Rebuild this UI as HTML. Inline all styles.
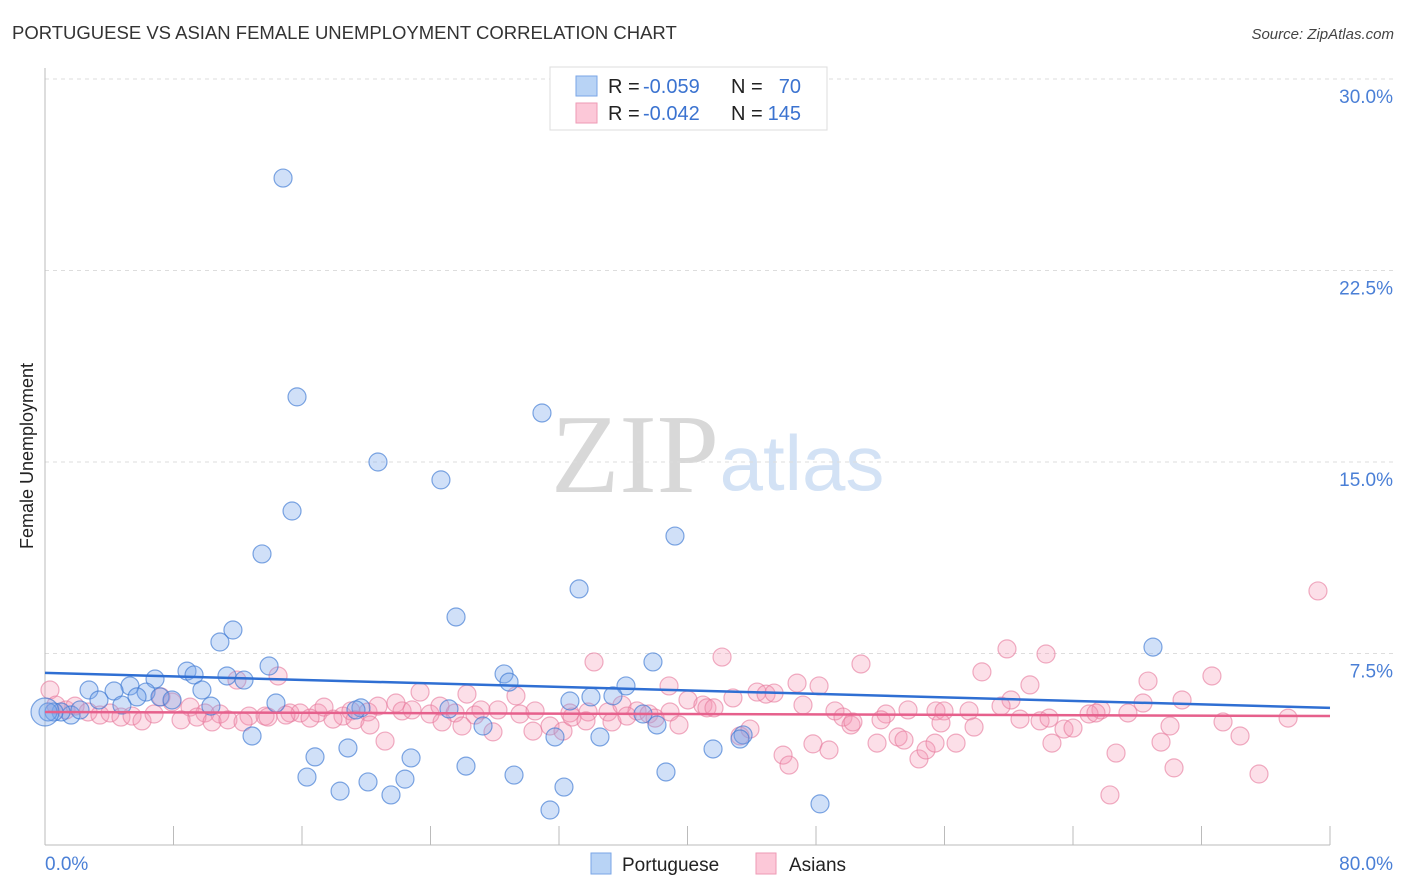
<!DOCTYPE html>
<html><head><meta charset="utf-8"><style>
body{margin:0;background:#fff;font-family:"Liberation Sans",sans-serif}
svg{display:block}
</style></head><body>
<svg id="chart" width="1406" height="892" viewBox="0 0 1406 892" xmlns="http://www.w3.org/2000/svg" font-family="Liberation Sans, sans-serif">
<text x="12" y="39" font-size="18.5" fill="#333">PORTUGUESE VS ASIAN FEMALE UNEMPLOYMENT CORRELATION CHART</text>
<text x="1394" y="39" font-size="15" fill="#444" text-anchor="end" font-style="italic">Source: ZipAtlas.com</text>
<g>
<text x="635" y="492" font-size="112" font-family="Liberation Serif, serif" fill="#d8d8d8" text-anchor="middle">ZIP</text>
<text x="802" y="490" font-size="78" fill="#d3e2f5" text-anchor="middle">atlas</text>
</g>
<g id="grid"></g>
<g id="axes"></g>
<g id="pts"></g>
<g id="trends"></g>
<text transform="translate(33,456) rotate(-90)" font-size="18" fill="#222" text-anchor="middle">Female Unemployment</text>
<text x="45" y="870" font-size="19" fill="#4a7fd6">0.0%</text>
<text x="1393" y="870" font-size="19" fill="#4a7fd6" text-anchor="end">80.0%</text>
<g>
<rect x="550" y="67" width="277" height="63" fill="#fff" stroke="#ddd"/>
<rect x="576" y="76" width="21" height="20" fill="#b8d3f5" stroke="#7aa6e6"/>
<rect x="576" y="103" width="21" height="20" fill="#fcc8d8" stroke="#ee9ab5"/>
<text x="608" y="93" font-size="20" fill="#222">R =</text>
<text x="643" y="93" font-size="20" fill="#3b73d0">-0.059</text>
<text x="731" y="93" font-size="20" fill="#222">N =</text>
<text x="801" y="93" font-size="20" fill="#3b73d0" text-anchor="end">70</text>
<text x="608" y="120" font-size="20" fill="#222">R =</text>
<text x="643" y="120" font-size="20" fill="#3b73d0">-0.042</text>
<text x="731" y="120" font-size="20" fill="#222">N =</text>
<text x="801" y="120" font-size="20" fill="#3b73d0" text-anchor="end">145</text>
</g>
<g>
<rect x="591" y="853" width="20" height="21" fill="#b8d3f5" stroke="#7aa6e6"/>
<text x="622" y="871" font-size="19" fill="#222">Portuguese</text>
<rect x="756" y="853" width="20" height="21" fill="#fcc8d8" stroke="#ee9ab5"/>
<text x="789" y="871" font-size="19" fill="#222">Asians</text>
</g>
</svg>
<script>
const yTicks=[7.5,15,22.5,30];
const yTickLabels=["7.5%","15.0%","22.5%","30.0%"];
const xTicks=[0,8,16,24,32,40,48,56,64,72,80];
const bluePx=[[283,178],[297,397],[542,413],[378,462],[441,480],[292,511],[675,536],[262,554],[579,589],[456,617],[233,630],[220,642],[1153,647],[653,662],[269,666],[187,671],[194,675],[504,674],[227,676],[244,680],[155,679],[509,682],[626,686],[130,686],[89,690],[114,691],[202,690],[146,692],[160,697],[613,696],[570,701],[591,697],[172,700],[99,700],[122,705],[137,697],[276,703],[211,706],[361,708],[356,710],[643,714],[449,709],[483,726],[657,725],[252,736],[555,737],[600,737],[743,735],[740,739],[71,715],[61,712],[54,712],[80,710],[315,757],[348,748],[411,758],[713,749],[466,766],[307,777],[514,775],[666,772],[405,779],[368,782],[340,791],[391,795],[564,787],[550,810],[820,804],[48,712],[45,712]];
const pinkPx=[[1318,591],[594,662],[861,664],[722,657],[1007,649],[1046,654],[982,672],[1212,676],[278,676],[237,680],[669,686],[1030,685],[797,683],[1148,681],[757,692],[766,694],[774,693],[819,686],[516,696],[420,692],[467,694],[733,698],[688,700],[703,705],[707,708],[1011,700],[1182,700],[1143,703],[1101,710],[1089,714],[1001,706],[803,705],[714,708],[908,710],[886,714],[936,711],[969,711],[944,711],[835,711],[843,717],[881,720],[851,725],[898,737],[853,722],[161,697],[172,702],[190,707],[205,713],[220,714],[249,716],[265,716],[290,713],[300,713],[318,713],[324,707],[343,716],[351,711],[368,712],[378,706],[396,703],[402,711],[430,714],[440,706],[455,713],[475,715],[481,710],[498,710],[520,714],[535,711],[570,713],[588,712],[608,712],[622,705],[637,711],[649,714],[670,712],[50,690],[56,705],[66,710],[75,706],[88,712],[100,715],[110,713],[121,717],[132,716],[142,721],[154,714],[181,720],[197,717],[212,722],[228,720],[243,722],[268,717],[286,715],[310,718],[333,719],[355,720],[370,725],[385,741],[412,710],[442,722],[462,726],[493,732],[533,731],[550,726],[563,731],[572,717],[586,721],[612,722],[627,716],[655,718],[679,725],[740,736],[750,729],[783,755],[789,765],[813,744],[829,750],[877,743],[904,740],[919,759],[926,750],[935,743],[956,743],[974,727],[941,723],[1020,719],[1040,721],[1052,743],[1064,729],[1073,728],[1116,753],[1110,795],[1161,742],[1174,768],[1170,726],[1240,736],[1259,774],[1288,718],[1128,713],[1096,713],[1049,718],[1223,722]];
const blueX=bluePx.map(p=>+((p[0]-45)/16.0625).toFixed(2));
const blueY=bluePx.map(p=>+((845-p[1])/25.533).toFixed(2));
const pinkX=pinkPx.map(p=>+((p[0]-45)/16.0625).toFixed(2));
const pinkY=pinkPx.map(p=>+((845-p[1])/25.533).toFixed(2));
const blueTrend=[6.74,5.37];
const pinkTrend=[5.21,5.05];

const NS="http://www.w3.org/2000/svg";
const X=v=>45+v*(1285/80);
const Y=v=>845-v*(766/30);
function mk(tag,attrs,parent){const e=document.createElementNS(NS,tag);for(const k in attrs)e.setAttribute(k,attrs[k]);document.getElementById(parent).appendChild(e);return e;}
yTicks.forEach((t,i)=>{
 const g=mk('line',{x1:45,x2:1393,y1:Y(t),y2:Y(t),stroke:'#ddd','stroke-dasharray':'4,4'},'grid');
 
 
 const l=mk('text',{x:1393,y:Y(t)+24,'font-size':19,fill:'#4a7fd6','text-anchor':'end'},'grid');
 l.textContent=yTickLabels[i];
 
 
});
const ax=mk('line',{x1:45,x2:45,y1:68,y2:845,stroke:'#bbb'},'axes');


const bx=mk('line',{x1:45,x2:1330,y1:845,y2:845,stroke:'#bbb'},'axes');


xTicks.forEach(t=>{
 const tk=mk('line',{x1:X(t),x2:X(t),y1:826,y2:845,stroke:'#bbb'},'axes');
 
 
});
pinkX.forEach((x,i)=>{
 const c=mk('circle',{cx:X(x),cy:Y(pinkY[i]),r:9,fill:'rgba(244,150,180,0.3)',stroke:'rgba(230,120,155,0.6)','stroke-width':1.2},'pts');
 
 
});
blueX.forEach((x,i)=>{
 const c=mk('circle',{cx:X(x),cy:Y(blueY[i]),r:(i===blueX.length-1?14:9),fill:'rgba(120,165,235,0.35)',stroke:'rgba(60,120,210,0.65)','stroke-width':1.2},'pts');
 
 
});
const tb=mk('line',{x1:X(0),x2:X(80),y1:Y(blueTrend[0]),y2:Y(blueTrend[1]),stroke:'#2f6fd3','stroke-width':2.5},'trends');


const tp=mk('line',{x1:X(0),x2:X(80),y1:Y(pinkTrend[0]),y2:Y(pinkTrend[1]),stroke:'#e6608c','stroke-width':2.5},'trends');


</script>
</body></html>
